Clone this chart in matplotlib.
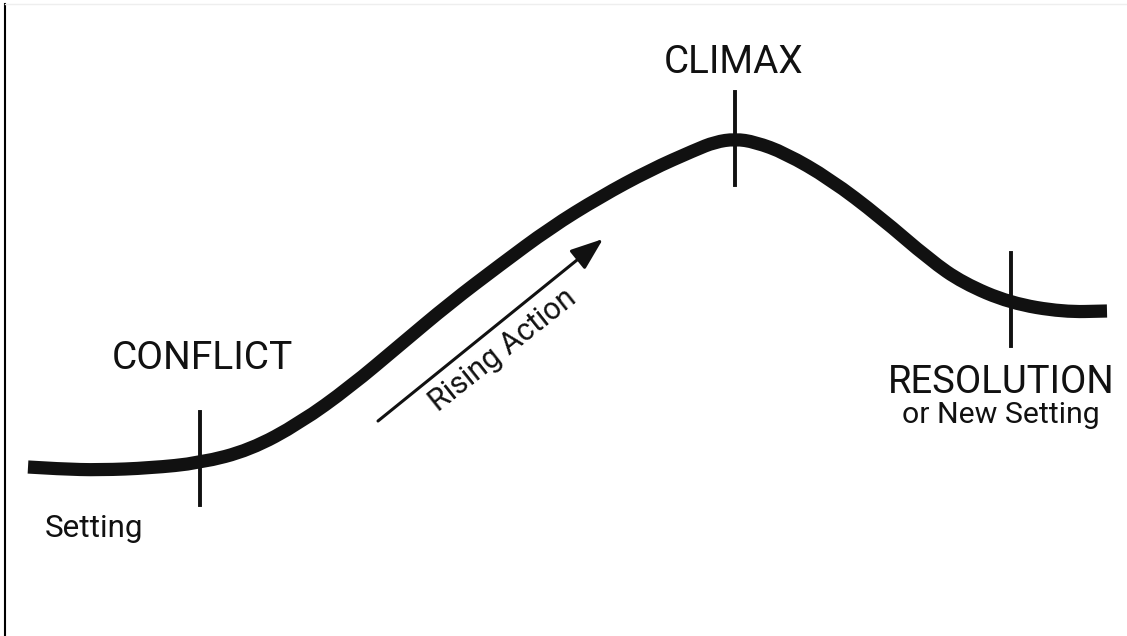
import matplotlib
matplotlib.use("Agg")
import matplotlib.pyplot as plt
from matplotlib.path import Path
from matplotlib.patches import PathPatch

plt.rcParams['font.family'] = ['Roboto', 'DejaVu Sans']

# story arc in pixel coords (y grows downwards)
curve_x = [28, 60, 100, 150, 200, 250, 300, 350, 400, 450, 500, 550, 600, 650, 695, 715, 735, 755, 785, 830, 880, 930, 963, 1010, 1063, 1107]
curve_y = [467, 469, 470, 468, 463, 450, 423, 387, 345, 303, 265, 228, 197, 170, 150, 142, 139, 142, 153, 179, 217, 260, 283, 303, 312, 311]

# tick marks across the curve: x, top, bottom
tick_x = [200, 735, 1011]
tick_top = [412, 92, 253]
tick_bottom = [505, 185, 346]

labels = ["CONFLICT", "CLIMAX", "RESOLUTION", "or New Setting", "Setting"]
label_x = [202, 734, 1001, 1001, 94.5]
label_y = [369, 73, 393, 423, 537]
label_size = [28, 27.8, 27.5, 21.8, 22.6]

arrow_start = (378, 421)
arrow_end = (603, 239)

fig = plt.figure(figsize=(11.27, 6.36), dpi=100)
ax = fig.add_axes([0, 0, 1, 1])
ax.set_xlim(0, 1127)
ax.set_ylim(636, 0)
ax.axis('off')

# frame bits at the edge of the original image
ax.plot([5, 5], [4, 636], color='black', lw=1.5)
ax.plot([5, 1127], [4, 4], color='#eeeeee', lw=1)

# smooth the arc: each read point is a quadratic control point, midpoints lie on the curve
pts = list(zip(curve_x, curve_y))
verts = [pts[0]]
codes = [Path.MOVETO]
for i in range(1, len(pts) - 1):
    mid = ((pts[i][0] + pts[i + 1][0]) / 2, (pts[i][1] + pts[i + 1][1]) / 2)
    verts += [pts[i], mid]
    codes += [Path.CURVE3, Path.CURVE3]
verts.append(pts[-1])
codes.append(Path.LINETO)
ax.add_patch(PathPatch(Path(verts, codes), facecolor='none', edgecolor='#111111',
                       lw=9.5, capstyle='butt', joinstyle='round'))

for x, t, b in zip(tick_x, tick_top, tick_bottom):
    ax.plot([x, x], [t, b], color='#111111', lw=2.8)

ax.annotate('', xy=arrow_end, xytext=arrow_start,
            arrowprops=dict(arrowstyle='-|>,head_length=2.0,head_width=0.75', color='#111111',
                            lw=2.2, shrinkA=0, shrinkB=0))
ax.text(503, 350, 'Rising Action', rotation=38.5, rotation_mode='anchor',
        ha='center', va='center', fontsize=22, color='#111111')

for s, x, y, fs in zip(labels, label_x, label_y, label_size):
    ax.text(x, y, s, ha='center', va='baseline', fontsize=fs, color='#111111')

fig.savefig('out.png', dpi=100)
